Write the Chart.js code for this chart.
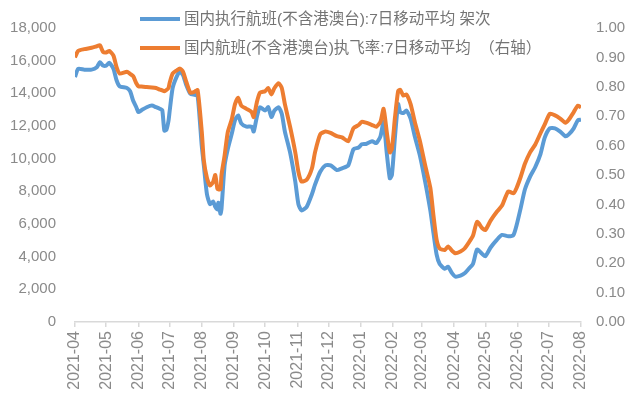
<!DOCTYPE html>
<html>
<head>
<meta charset="utf-8">
<script src="https://cdn.jsdelivr.net/npm/chart.js@4.4.1/dist/chart.umd.min.js"></script>
<style>
html,body{margin:0;padding:0;background:#fff;}
canvas{display:block;}
</style>
</head>
<body>
<canvas id="c" width="640" height="398"></canvas>
<script>
// Days since 2021-04-01
const days = [0,3,9,16,21,24,27,30,33,37,40,43,50,53,56,59,61,64,69,74,78,82,84,86,88,90,91,94,98,101,104,107,111,115,118,122,124,127,130,133,135,137,138,140,141,144,147,151,154,157,160,165,170,172,175,178,183,186,189,192,196,199,202,207,212,215,218,223,228,231,236,241,246,252,257,263,268,273,276,280,286,290,294,297,300,303,305,308,311,313,316,319,323,327,332,337,342,345,348,351,356,359,363,366,371,375,379,383,387,392,395,400,406,411,417,422,425,429,433,438,443,448,452,457,462,467,472,475,480,484,487];
// 国内执行航班(不含港澳台):7日移动平均 架次
const flights = [15000,15500,15450,15450,15600,15900,15700,15690,15870,15510,14800,14430,14330,14130,13540,13150,12850,12970,13150,13250,13150,13040,12970,11720,11770,12320,12850,14330,15040,15320,15120,14520,13970,13910,13860,10780,9590,7820,7220,7380,7050,6900,7300,6630,6930,9590,10580,11560,12360,12650,12160,11960,11960,11660,12550,13150,12950,13150,12550,12950,13150,12750,11660,10380,8600,7220,6830,7050,7820,8410,9200,9590,9590,9300,9410,9590,10580,10680,10880,10900,11070,10950,11370,12260,10380,8800,9000,11370,13340,12850,12790,12950,12450,11370,10180,8600,6830,5450,4140,3550,3260,3380,2980,2780,2840,2980,3260,3550,4440,4160,4030,4560,5030,5330,5250,5330,5920,6990,8110,8900,9490,10280,11270,11860,11860,11660,11370,11470,11860,12350,12380];
// 国内航班(不含港澳台)执飞率:7日移动平均 (右轴)
const execRate = [0.900,0.922,0.928,0.933,0.938,0.941,0.919,0.917,0.922,0.906,0.867,0.845,0.851,0.844,0.836,0.812,0.802,0.801,0.799,0.798,0.796,0.790,0.788,0.785,0.789,0.796,0.812,0.845,0.856,0.862,0.851,0.818,0.780,0.783,0.789,0.648,0.549,0.490,0.464,0.477,0.500,0.454,0.451,0.451,0.500,0.566,0.645,0.691,0.741,0.763,0.736,0.725,0.714,0.697,0.747,0.780,0.785,0.796,0.774,0.796,0.812,0.796,0.741,0.664,0.577,0.511,0.478,0.484,0.522,0.577,0.638,0.648,0.643,0.632,0.628,0.615,0.659,0.670,0.681,0.678,0.670,0.664,0.681,0.725,0.648,0.577,0.589,0.697,0.785,0.790,0.770,0.774,0.741,0.681,0.615,0.533,0.456,0.362,0.280,0.250,0.245,0.257,0.242,0.234,0.240,0.250,0.270,0.293,0.341,0.319,0.313,0.345,0.375,0.396,0.444,0.438,0.456,0.494,0.538,0.577,0.604,0.642,0.671,0.708,0.703,0.692,0.678,0.687,0.714,0.736,0.730];

const monthDays = [0,30,61,91,122,153,183,214,244,275,306,334,365,395,426,456,487];
const monthLabels = ['2021-04','2021-05','2021-06','2021-07','2021-08','2021-09','2021-10','2021-11','2021-12','2022-01','2022-02','2022-03','2022-04','2022-05','2022-06','2022-07','2022-08'];
const leftTicks = [0,2000,4000,6000,8000,10000,12000,14000,16000,18000];
const rightTicks = [0,0.1,0.2,0.3,0.4,0.5,0.6,0.7,0.8,0.9,1.0];
const seriesNames = ['国内执行航班(不含港澳台):7日移动平均 架次','国内航班(不含港澳台)执飞率:7日移动平均  （右轴）'];

const BLUE = '#5B9BD5', ORANGE = '#ED7D31';
const tickFont = {family:'"Liberation Sans", Arial, "Noto Sans CJK SC", sans-serif', size:15};
const tickColor = '#8a8a8a';

const legendPlugin = {
  id: 'customLegend',
  afterDraw(chart) {
    const ctx = chart.ctx;
    ctx.save();
    ctx.font = '15.5px "Liberation Sans", Arial, "Noto Sans CJK SC", sans-serif';
    ctx.textBaseline = 'middle';
    ctx.textAlign = 'left';
    const rows = [19, 48];
    chart.data.datasets.forEach((ds, i) => {
      const y = rows[i];
      ctx.strokeStyle = ds.borderColor;
      ctx.lineWidth = 4;
      ctx.lineCap = 'butt';
      ctx.beginPath();
      ctx.moveTo(140, y);
      ctx.lineTo(180, y);
      ctx.stroke();
      ctx.fillStyle = '#747474';
      ctx.fillText(ds.label, 184, y + 1);
    });
    ctx.restore();
  }
};

new Chart(document.getElementById('c'), {
  type: 'line',
  data: {
    datasets: [
      {
        label: seriesNames[0],
        data: days.map((d, i) => ({x: d, y: flights[i]})),
        borderColor: BLUE,
        backgroundColor: BLUE,
        borderWidth: 4,
        pointRadius: 0,
        tension: 0.2,
        yAxisID: 'y',
        order: 2
      },
      {
        label: seriesNames[1],
        data: days.map((d, i) => ({x: d, y: execRate[i]})),
        borderColor: ORANGE,
        backgroundColor: ORANGE,
        borderWidth: 4,
        pointRadius: 0,
        tension: 0.2,
        yAxisID: 'y1',
        order: 1
      }
    ]
  },
  options: {
    responsive: false,
    animation: false,
    devicePixelRatio: 1,
    layout: {padding: {top: 18, left: 0, right: 0, bottom: 0}},
    plugins: {legend: {display: false}, tooltip: {enabled: false}},
    scales: {
      x: {
        type: 'linear',
        min: monthDays[0],
        max: monthDays[monthDays.length - 1],
        afterBuildTicks: s => { s.ticks = monthDays.map(v => ({value: v})); },
        afterFit: s => { s.height = 76; },
        grid: {display: true, drawOnChartArea: false, drawTicks: true, tickLength: 5, color: '#d9d9d9', lineWidth: 1.5},
        border: {display: true, color: '#d9d9d9', width: 1.5},
        ticks: {
          autoSkip: false, minRotation: 90, maxRotation: 90, padding: 4,
          font: {family: tickFont.family, size: 16}, color: tickColor,
          callback: (v, i) => monthLabels[i]
        }
      },
      y: {
        position: 'left',
        min: 0, max: 18000,
        afterBuildTicks: s => { s.ticks = leftTicks.map(v => ({value: v})); },
        afterFit: s => { s.width = 75; },
        grid: {display: false, drawTicks: false},
        border: {display: false},
        ticks: {padding: 19, font: tickFont, color: tickColor, callback: v => v.toLocaleString('en-US')}
      },
      y1: {
        position: 'right',
        min: 0, max: 1,
        afterBuildTicks: s => { s.ticks = rightTicks.map(v => ({value: v})); },
        afterFit: s => { s.width = 59; },
        grid: {display: false, drawTicks: false},
        border: {display: false},
        ticks: {padding: 15, font: tickFont, color: tickColor, callback: v => Number(v).toFixed(2)}
      }
    }
  },
  plugins: [legendPlugin]
});
</script>
</body>
</html>
